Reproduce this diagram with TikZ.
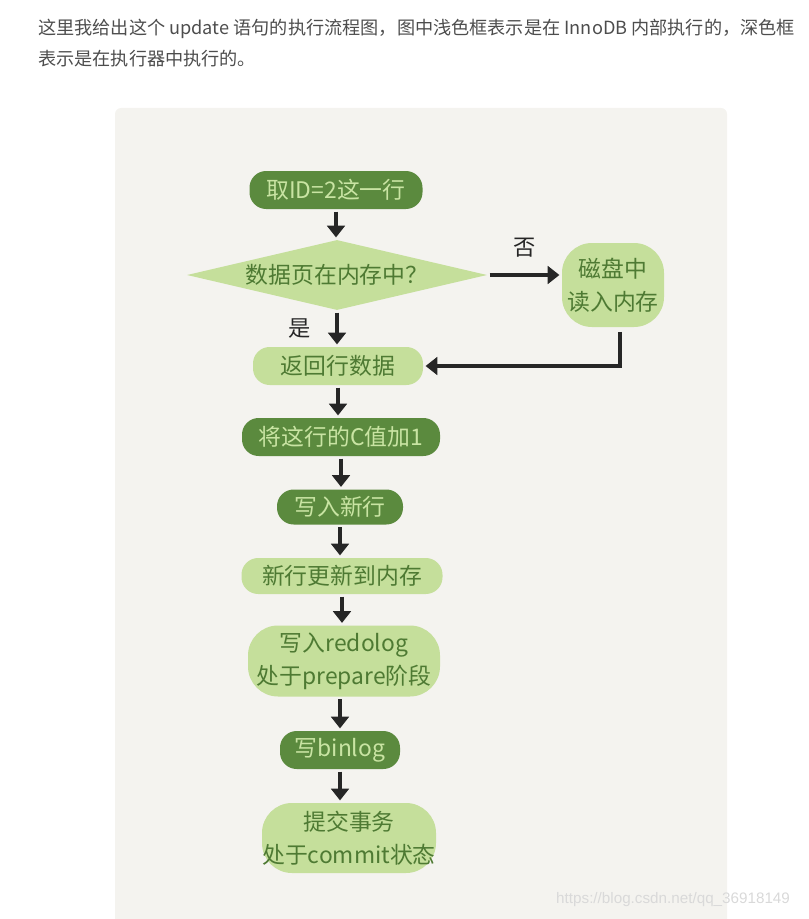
\documentclass[tikz,border=0pt]{standalone}
\usepackage{fontspec}
\setmainfont{Noto Sans CJK SC}
\newfontfamily\urlfont{Liberation Sans}
\usepackage{xcolor}
\usetikzlibrary{shapes,arrows.meta,positioning,calc}

\definecolor{paper}{HTML}{F4F3EF}
\definecolor{darkleaf}{HTML}{5B8A3E}
\definecolor{lightleaf}{HTML}{C5DF9B}
\definecolor{inkdark}{HTML}{4E7A33}
\definecolor{inklight}{HTML}{C9E4A3}
\definecolor{pen}{HTML}{262626}
\definecolor{headgray}{HTML}{4D4D4D}
\definecolor{wmgray}{HTML}{D9D9D9}

\begin{document}
\begin{tikzpicture}[
    font=\fontsize{19.5}{28}\selectfont,
    dark/.style={rounded corners=0.5cm, fill=darkleaf, text=inklight, inner sep=0pt, align=center},
    light/.style={rounded corners=0.5cm, fill=lightleaf, text=inkdark, inner sep=0pt, align=center},
    flow/.style={-{Triangle[width=15pt,length=10pt]}, line width=3.2pt, draw=pen, shorten <=2pt, shorten >=2pt},
    tag/.style={text=pen, font=\fontsize{19}{22}\selectfont}
]
    \useasboundingbox (0,0) rectangle (24.24,-27.57);

    % Intro text
    \node[anchor=west, align=left, inner sep=0pt, text=headgray, font=\fontsize{15.5}{26.4}\selectfont] (intro) at (1.14,-1.305)
        {这里我给出这个 update 语句的执行流程图，图中浅色框表示是在 InnoDB 内部执行的，深色框\\表示是在执行器中执行的。};

    % Paper
    \fill[paper, rounded corners=0.18cm] (3.45,-3.24) rectangle (21.81,-28.2);

    % Steps
    \node[dark, minimum width=5.19cm, minimum height=1.14cm] (fetch) at (10.08,-5.70) {取ID=2这一行};
    \node[diamond, aspect=4.29, minimum width=9cm, minimum height=2.1cm, inner sep=0pt, fill=lightleaf, text=inkdark] (inmem) at (10.11,-8.25) {数据页在内存中？};
    \node[light, rounded corners=0.9cm, minimum width=3.06cm, minimum height=2.52cm] (disk) at (18.39,-8.55) {磁盘中\\读入内存};
    \node[light, minimum width=5.1cm, minimum height=1.14cm] (ret) at (10.14,-10.98) {返回行数据};
    \node[dark, minimum width=5.94cm, minimum height=1.14cm] (incr) at (10.23,-13.11) {将这行的C值加1};
    \node[dark, minimum width=3.78cm, minimum height=1.05cm] (newrow) at (10.2,-15.21) {写入新行};
    \node[light, minimum width=6.03cm, minimum height=1.08cm] (tomem) at (10.26,-17.28) {新行更新到内存};
    \node[light, rounded corners=0.9cm, minimum width=5.76cm, minimum height=2.13cm] (redo) at (10.32,-19.83) {写入redolog\\处于prepare阶段};
    \node[dark, minimum width=3.6cm, minimum height=1.14cm] (binlog) at (10.2,-22.5) {写binlog};
    \node[light, rounded corners=0.9cm, minimum width=5.22cm, minimum height=2.1cm] (commit) at (10.47,-25.14) {提交事务\\处于commit状态};

    % Arrows
    \draw[flow] (fetch) -- (fetch |- inmem.north);
    \draw[flow] (inmem.south) -- (inmem.south |- ret.north) node[midway, left=0.6cm, tag] {是};
    \draw[flow] (inmem.east) -- (inmem.east -| disk.west) node[midway, above=0.35cm, tag] {否};
    \draw[flow, shorten <=4pt] ([xshift=0.2cm]disk.south) |- (ret.east);
    \draw[flow] (ret.south) -- (ret.south |- incr.north);
    \draw[flow] (incr.south) -- (incr.south |- newrow.north);
    \draw[flow] (newrow.south) -- (newrow.south |- tomem.north);
    \draw[flow] (tomem.south) -- (tomem.south |- redo.north);
    \draw[flow] (binlog.north |- redo.south) -- (binlog.north);
    \draw[flow] (binlog.south) -- (binlog.south |- commit.north);

    % Watermark
    \node[anchor=west, inner sep=0pt, text=wmgray, font=\urlfont\fontsize{13}{15}\selectfont] (mark) at (16.68,-27.0) {https://blog.csdn.net/qq\_36918149};
\end{tikzpicture}
\end{document}
